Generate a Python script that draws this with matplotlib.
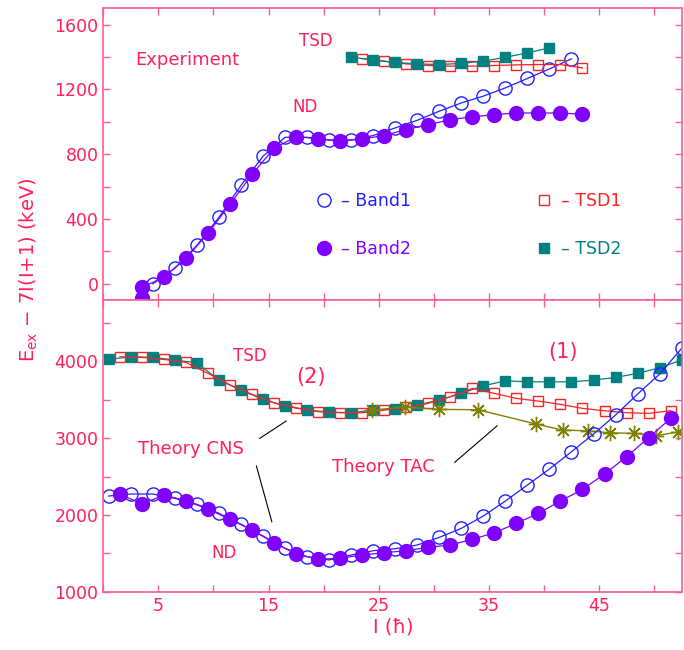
# Band energies minus rigid-rotor reference, experiment (top) vs theory (bottom)
import matplotlib
matplotlib.use("Agg")
import matplotlib.pyplot as plt
from matplotlib.ticker import MultipleLocator, NullFormatter

# ---- experiment (top panel) ----
band1_top_I = [4.5, 6.5, 8.5, 10.5, 12.5, 14.5, 16.5, 18.5, 20.5, 22.5, 24.5, 26.5, 28.5,
               30.5, 32.5, 34.5, 36.5, 38.5, 40.5, 42.5]
band1_top_E = [0, 96, 237, 410, 607, 787, 904, 904, 886, 886, 915, 962, 1009,
               1065, 1116, 1158, 1209, 1267, 1326, 1388]

band2_top_I = [3.5, 3.5, 5.5, 7.5, 9.5, 11.5, 13.5, 15.5, 17.5, 19.5, 21.5, 23.5, 25.5,
               27.5, 29.5, 31.5, 33.5, 35.5, 37.5, 39.5, 41.5, 43.5]
band2_top_E = [-89, -23, 41, 156, 311, 490, 675, 836, 908, 895, 882, 894, 915,
               952, 982, 1013, 1030, 1044, 1054, 1054, 1054, 1046]

tsd1_top_I = [23.5, 25.5, 27.5, 29.5, 31.5, 33.5, 35.5, 37.5, 39.5, 41.5, 43.5]
tsd1_top_E = [1390, 1374, 1357, 1347, 1343, 1343, 1347, 1351, 1353, 1353, 1332]

tsd2_top_I = [22.5, 24.5, 26.5, 28.5, 30.5, 32.5, 34.5, 36.5, 38.5, 40.5]
tsd2_top_E = [1400, 1380, 1366, 1357, 1353, 1360, 1374, 1398, 1425, 1456]

# ---- theory (bottom panel) ----
band1_bot_I = [0.5, 2.5, 4.5, 6.5, 8.5, 10.5, 12.5, 14.5, 16.5, 18.5, 20.5, 22.5, 24.5, 26.5,
               28.5, 30.5, 32.5, 34.5, 36.5, 38.5, 40.5, 42.5, 44.5, 46.5, 48.5, 50.5, 52.5]
band1_bot_E = [2246, 2272, 2272, 2216, 2138, 2021, 1878, 1725, 1565, 1456, 1413, 1478, 1534, 1560,
               1608, 1708, 1825, 1986, 2181, 2389, 2598, 2823, 3053, 3301, 3574, 3834, 4169]

band2_bot_I = [1.5, 3.5, 5.5, 7.5, 9.5, 11.5, 13.5, 15.5, 17.5, 19.5, 21.5, 23.5, 25.5,
               27.5, 29.5, 31.5, 33.5, 35.5, 37.5, 39.5, 41.5, 43.5, 45.5, 47.5, 49.5, 51.5]
band2_bot_E = [2272, 2142, 2259, 2185, 2077, 1943, 1803, 1638, 1491, 1422, 1435, 1478, 1508,
               1534, 1578, 1608, 1682, 1768, 1890, 2021, 2181, 2333, 2532, 2758, 3005, 3258]

tsd1_bot_I = [1.5, 3.5, 5.5, 7.5, 9.5, 11.5, 13.5, 15.5, 17.5, 19.5, 21.5, 23.5, 25.5,
              27.5, 29.5, 31.5, 33.5, 35.5, 37.5, 39.5, 41.5, 43.5, 45.5, 47.5, 49.5, 51.5]
tsd1_bot_E = [4060, 4052, 4026, 3987, 3844, 3695, 3570, 3461, 3396, 3344, 3331, 3331, 3366,
              3401, 3453, 3539, 3648, 3583, 3518, 3483, 3440, 3388, 3357, 3331, 3323, 3357]

tsd2_bot_I = [0.5, 2.5, 4.5, 6.5, 8.5, 10.5, 12.5, 14.5, 16.5, 18.5, 20.5, 22.5, 24.5, 26.5,
              28.5, 30.5, 32.5, 34.5, 36.5, 38.5, 40.5, 42.5, 44.5, 46.5, 48.5, 50.5, 52.5]
tsd2_bot_E = [4026, 4060, 4052, 4017, 3982, 3756, 3626, 3505, 3418, 3366, 3340, 3331, 3366, 3379,
              3431, 3496, 3583, 3682, 3747, 3734, 3734, 3734, 3756, 3791, 3844, 3917, 4017]

tac_I = [24.4, 27.4, 30.5, 34.0, 39.3, 41.7, 44.0, 46.0, 48.2, 50.2, 52.2]
tac_E = [3366, 3405, 3375, 3370, 3184, 3105, 3096, 3070, 3062, 3031, 3083]

# pointer lines from the labels to the curves (I, E)
cns_up_I, cns_up_E = [14.2, 16.6], [2997, 3223]
cns_lo_I, cns_lo_E = [13.9, 15.3], [2637, 1911]
tac_ptr_I, tac_ptr_E = [31.9, 35.75], [2685, 3161]

PINK = '#ff1f5a'
SPINE = '#ff5c8d'
BLUE = '#1f1fff'
PURPLE = '#7f00ff'
RED = '#ff2020'
TEAL = '#008080'
OLIVE = '#808000'

plt.rcParams['font.family'] = ['DejaVu Sans']

fig = plt.figure(figsize=(6.84, 6.5), dpi=100)
ax1 = fig.add_axes([0.151, 0.5385, 0.8465, 0.4487])
ax2 = fig.add_axes([0.151, 0.0897, 0.8465, 0.4488])

def style(ax):
    for s in ax.spines.values():
        s.set_color(SPINE)
        s.set_linewidth(1.2)
    ax.tick_params(which='both', direction='in', top=True, right=True,
                   length=5, width=1, color=SPINE, labelcolor=PINK, labelsize=12.5)
    ax.xaxis.set_major_locator(MultipleLocator(10))
    ax.xaxis.set_minor_locator(MultipleLocator(5))
    ax.set_xlim(0, 52.56)

style(ax1)
style(ax2)

open_kw = dict(ms=9.5, mfc='none', mew=1.0, lw=0.9)
sq_kw = dict(ms=7.5, lw=0.9)

# top panel
ax1.plot(band1_top_I, band1_top_E, 'o-', color=BLUE, **open_kw, label='– Band1')
ax1.plot(band2_top_I, band2_top_E, 'o-', color=PURPLE, ms=10, lw=0.9, label='– Band2')
ax1.plot(tsd1_top_I, tsd1_top_E, 's-', color=RED, mfc='none', mew=1.0, **sq_kw, label='– TSD1')
ax1.plot(tsd2_top_I, tsd2_top_E, 's-', color=TEAL, **sq_kw, label='– TSD2')
ax1.set_ylim(-100, 1700)
ax1.yaxis.set_major_locator(MultipleLocator(400))
ax1.yaxis.set_minor_locator(MultipleLocator(200))
ax1.xaxis.set_major_formatter(NullFormatter())
h, l = ax1.get_legend_handles_labels()
ax1.legend(h, l, ncol=2,
           loc='upper left', bbox_to_anchor=(0.366, 0.37), frameon=False,
           fontsize=12.5, handlelength=1.0, handletextpad=0.5, labelspacing=1.75,
           columnspacing=7.15, borderpad=0, borderaxespad=0,
           labelcolor=[BLUE, PURPLE, RED, TEAL])
for lh in ax1.get_legend().get_lines():
    lh.set_linestyle('none')

ax1.text(7.6, 1380, 'Experiment', color=PINK, fontsize=13, ha='center', va='center')
ax1.text(19.3, 1500, 'TSD', color=PINK, fontsize=12, ha='center', va='center')
ax1.text(18.3, 1090, 'ND', color=PINK, fontsize=12, ha='center', va='center')

# bottom panel
ax2.plot(tsd2_bot_I, tsd2_bot_E, 's-', color=TEAL, **sq_kw)
ax2.plot(tsd1_bot_I, tsd1_bot_E, 's-', color=RED, mfc='none', mew=1.0, **sq_kw)
ax2.plot(tac_I, tac_E, '-', color=OLIVE, lw=1.0, marker=(8, 2, 0), ms=11, mew=1.0)
ax2.plot(band1_bot_I, band1_bot_E, 'o-', color=BLUE, **open_kw)
ax2.plot(band2_bot_I, band2_bot_E, 'o-', color=PURPLE, ms=10, lw=0.9)
ax2.plot(cns_up_I, cns_up_E, color='black', lw=0.8)
ax2.plot(cns_lo_I, cns_lo_E, color='black', lw=0.8)
ax2.plot(tac_ptr_I, tac_ptr_E, color='black', lw=0.8)
ax2.set_ylim(1000, 4800)
ax2.yaxis.set_major_locator(MultipleLocator(1000))
ax2.yaxis.set_minor_locator(MultipleLocator(500))
ax2.set_xticks([5, 15, 25, 35, 45])
ax2.xaxis.set_minor_locator(MultipleLocator(5))

ax2.text(13.3, 4065, 'TSD', color=PINK, fontsize=12, ha='center', va='center')
ax2.text(18.85, 3800, '(2)', color=PINK, fontsize=15, ha='center', va='center')
ax2.text(41.7, 4120, '(1)', color=PINK, fontsize=15, ha='center', va='center')
ax2.text(8.0, 2860, 'Theory CNS', color=PINK, fontsize=13, ha='center', va='center')
ax2.text(25.4, 2630, 'Theory TAC', color=PINK, fontsize=13, ha='center', va='center')
ax2.text(11.0, 1510, 'ND', color=PINK, fontsize=12, ha='center', va='center')

ax2.set_xlabel('I (ħ)', color=PINK, fontsize=14, labelpad=2)
fig.text(0.042, 0.585, 'E$_{\\mathregular{ex}}$ − 7I(I+1) (keV)', color=PINK, fontsize=14,
         rotation=90, ha='center', va='center')

fig.savefig('out.png', dpi=100)
